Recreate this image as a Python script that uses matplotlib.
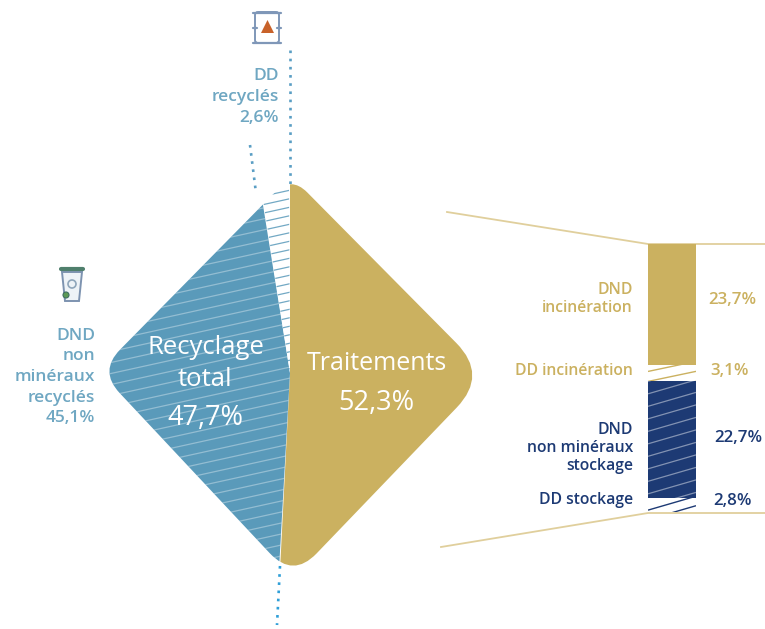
import numpy as np
import matplotlib
matplotlib.use('Agg')
import matplotlib.pyplot as plt
from matplotlib.path import Path
from matplotlib.patches import Polygon, PathPatch, FancyBboxPatch, Circle

plt.rcParams['font.family'] = ['Open Sans', 'DejaVu Sans']

# parts du diagramme principal (%)
treatment_share = 52.3
recycled_dd_share = 2.6
recycled_total_share = 47.7

# détail des traitements (%)
bar_labels = ['DND\nincinération', 'DD incinération', 'DND\nnon minéraux\nstockage', 'DD stockage']
bar_values = [23.7, 3.1, 22.7, 2.8]
bar_texts = ['23,7%', '3,1%', '22,7%', '2,8%']

BLUE = '#5a9aba'
GOLD = '#cbb160'
NAVY = '#1d3a74'
LABEL_BLUE = '#6fa7c2'
DOT_BLUE = '#4a9ac4'

fig = plt.figure(figsize=(7.65, 6.29), dpi=100)
ax = fig.add_axes([0, 0, 1, 1])
ax.set_xlim(0, 765)
ax.set_ylim(629, 0)
ax.axis('off')


def rounded_outline(corners, cuts):
    # losange aux angles arrondis, échantillonné en polyligne dense
    verts, codes = [], []
    n = len(corners)
    for i in range(n):
        c = np.array(corners[i], float)
        prev_pt = np.array(corners[i - 1], float)
        next_pt = np.array(corners[(i + 1) % n], float)
        a = c + (prev_pt - c) / np.linalg.norm(prev_pt - c) * cuts[i]
        b = c + (next_pt - c) / np.linalg.norm(next_pt - c) * cuts[i]
        verts += [a, c, b]
        codes += [Path.LINETO if i else Path.MOVETO, Path.CURVE3, Path.CURVE3]
    verts.append(verts[0])
    codes.append(Path.CLOSEPOLY)
    poly = Path(verts, codes).to_polygons()[0]
    dense = []
    for p, q in zip(poly[:-1], poly[1:]):
        steps = max(int(np.hypot(*(q - p))), 1)
        for t in np.arange(steps) / steps:
            dense.append(p + (q - p) * t)
    return np.array(dense)


def sector(outline, apex, start, end):
    # angles comptés depuis le haut, dans le sens horaire
    d = outline - apex
    theta = (np.degrees(np.arctan2(d[:, 1], d[:, 0])) + 90) % 360
    keep = (theta >= start) & (theta <= end)
    pts = outline[keep][np.argsort(theta[keep])]
    return np.vstack([apex, pts])


def hatch(patch, x0, x1, y0, y1, slope, step, color, lw, alpha=1.0):
    # rayures obliques limitées à la forme
    span = abs(slope) * (x1 - x0)
    for y in np.arange(y0, y1 + span + step, step):
        line, = ax.plot([x0, x1], [y, y - slope * (x1 - x0)], color=color, lw=lw, alpha=alpha,
                        solid_capstyle='butt', zorder=patch.get_zorder() + 0.1)
        line.set_clip_path(patch)


# diagramme en losange
apex = np.array([290.0, 373.0])
outline = rounded_outline([(291, 176), (488, 375), (293, 578), (99, 371)], [23, 45, 34, 30])
deg_per_pct = 3.5
gold_end = treatment_share * deg_per_pct
dd_start = 360 - recycled_dd_share * deg_per_pct

gold_part = Polygon(sector(outline, apex, 0, gold_end), closed=True, fc=GOLD, ec='none', zorder=2)
blue_part = Polygon(sector(outline, apex, gold_end, dd_start), closed=True, fc=BLUE, ec='none', zorder=2)
dd_part = Polygon(sector(outline, apex, dd_start, 360), closed=True, fc='white', ec='none', zorder=2)
for p in (gold_part, blue_part, dd_part):
    ax.add_patch(p)
hatch(blue_part, 95, 295, 190, 580, 0.22, 11, 'white', 0.9, 0.35)
hatch(dd_part, 250, 295, 165, 380, 0.22, 8.5, BLUE, 0.9, 0.85)

# pointillés de rappel
for xs, ys, col in [([290, 290], [50, 188], '#5a9ec4'),
                    ([250, 256], [145, 193], '#5a9ec4'),
                    ([280, 277], [566, 625], '#2f9fd8')]:
    ax.plot(xs, ys, color=col, lw=1.9, linestyle=(0, (1, 2.1)), zorder=1)

# traits de liaison vers la barre
ax.plot([447, 648, 765], [212, 244, 244], color='#e0cf9c', lw=1.3, zorder=1)
ax.plot([441, 648, 765], [547, 513, 513], color='#e0cf9c', lw=1.3, zorder=1)

# barre empilée du détail des traitements
bar_top = 244
px_per_pct = 5.124
bar_x0, bar_x1 = 648, 696
bar_style = [
    (GOLD, None, 0, 0, 0, 0),
    ('white', GOLD, 0.21, 10, 1.0, 6),
    (NAVY, 'white', 0.29, 12.5, 0.9, 0),
    ('white', NAVY, 0.29, 9.5, 1.0, 12.5),
]
bottom = bar_top
for value, (fc, line_col, slope, step, lw, offset) in zip(bar_values, bar_style):
    height = value * px_per_pct
    rect = ax.bar((bar_x0 + bar_x1) / 2, height, bottom=bottom, width=bar_x1 - bar_x0,
                  color=fc, linewidth=0, zorder=2)[0]
    if line_col:
        hatch(rect, bar_x0, bar_x1, bottom + offset, bottom + height, slope, step, line_col, lw,
              0.45 if line_col == 'white' else 1.0)
    bottom += height

# textes du losange
ax.text(206, 348, 'Recyclage', color='white', fontsize=18.5, ha='center', va='center', zorder=4)
ax.text(205, 379, 'total', color='white', fontsize=18.5, ha='center', va='center', zorder=4)
ax.text(205, 418, '47,7%', color='white', fontsize=19.5, ha='center', va='center', zorder=4)
ax.text(377, 363, 'Traitements', color='white', fontsize=18, ha='center', va='center', zorder=4)
ax.text(376, 403, '52,3%', color='white', fontsize=19.5, ha='center', va='center', zorder=4)

# libellés de gauche et du haut
ax.text(279, 97, 'DD\nrecyclés\n2,6%', color=LABEL_BLUE, fontsize=12.5, ha='right', va='center',
        linespacing=1.39, fontweight='semibold')
ax.text(95, 377, 'DND\nnon\nminéraux\nrecyclés\n45,1%', color=LABEL_BLUE, fontsize=12.5, ha='right',
        va='center', linespacing=1.39, fontweight='semibold')

# libellés de la barre
label_y = [299, 371, 448, 500]
label_col = [GOLD, GOLD, NAVY, NAVY]
pct_x = [708, 710, 714, 713]
pct_y = [300, 371, 438, 501]
for lab, txt, ly, col, px, py in zip(bar_labels, bar_texts, label_y, label_col, pct_x, pct_y):
    ax.text(633, ly, lab, color=col, fontsize=11.3, ha='right', va='center', linespacing=1.17,
            fontweight='semibold')
    ax.text(px, py, txt, color=col, fontsize=12.2, ha='left', va='center', fontweight='semibold')

# pictogramme du fût
ax.add_patch(FancyBboxPatch((255, 12), 24, 31, boxstyle='round,pad=0,rounding_size=3',
                            fc='white', ec='#7f97b8', lw=1.4))
ax.plot([253, 281], [13, 13], color='#7f97b8', lw=1.6, solid_capstyle='round')
ax.plot([253, 281], [43, 43], color='#7f97b8', lw=1.6, solid_capstyle='round')
ax.plot([253, 257], [28, 28], color='#7f97b8', lw=1.6, solid_capstyle='round')
ax.plot([277, 281], [28, 28], color='#7f97b8', lw=1.6, solid_capstyle='round')
ax.add_patch(Polygon([(261, 33), (267.5, 20), (274, 33)], closed=True, fc='#c8622a', ec='none'))

# pictogramme de la poubelle
ax.add_patch(Polygon([(62, 272), (82, 272), (79, 301), (65, 301)], closed=True, fc='#eef3f7',
                     ec='#7d93b0', lw=1.4))
ax.plot([61, 83], [269, 269], color='#4f7f6c', lw=3, solid_capstyle='round')
ax.add_patch(Circle((72, 284), 4, fc='none', ec='#8fa6ba', lw=1.2))
ax.add_patch(Circle((66, 295), 3, fc='#5d9a55', ec='#3f6f60', lw=0.8))

fig.savefig('out.png', dpi=100)
